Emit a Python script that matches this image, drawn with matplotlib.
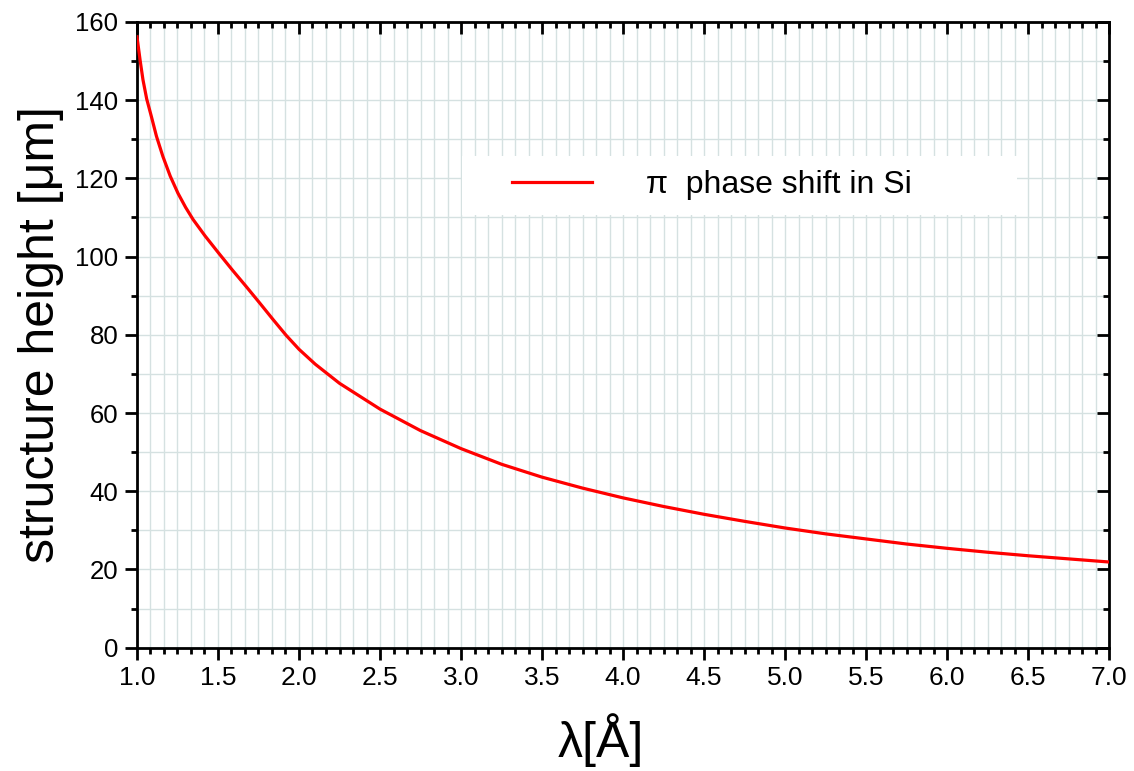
import matplotlib
matplotlib.use("Agg")
import matplotlib.pyplot as plt
from matplotlib.ticker import MultipleLocator, AutoMinorLocator
from matplotlib.patches import Rectangle

plt.rcParams['font.family'] = ['Liberation Sans', 'DejaVu Sans']

# wavelength [Angstrom] and height needed for a pi phase shift in Si [um]
wavelength = [1.000, 1.020, 1.037, 1.060, 1.089, 1.120, 1.160, 1.205, 1.253,
              1.300, 1.346, 1.420, 1.506, 1.590, 1.675, 1.760, 1.840, 1.920,
              2.000, 2.100, 2.250, 2.500, 2.750, 3.000, 3.250, 3.500, 3.750,
              4.000, 4.250, 4.500, 4.750, 5.000, 5.250, 5.500, 5.750, 6.000,
              6.250, 6.500, 6.750, 7.000]
height = [156.2, 150.0, 145.2, 140.3, 135.8, 130.8, 125.6, 120.6, 116.2,
          112.6, 109.5, 105.3, 100.8, 96.5, 92.3, 88.0, 83.9, 79.9,
          76.3, 72.5, 67.6, 61.0, 55.5, 50.9, 46.9, 43.6, 40.8,
          38.3, 36.1, 34.1, 32.3, 30.6, 29.1, 27.8, 26.5, 25.4,
          24.4, 23.5, 22.7, 21.9]
series_label = "π  phase shift in Si"

fig = plt.figure(figsize=(11.34, 7.71), dpi=100)
rect = [0.1208, 0.160, 0.8572, 0.8115]
ax = fig.add_axes(rect)

grid_col = '#d5e1e1'
ax.set_axisbelow(True)
ax.grid(which='both', color=grid_col, linewidth=1.0)

ax.plot(wavelength, height, color='#ff0000', linewidth=2.3, label=series_label, zorder=3)

ax.set_xlim(1.0, 7.0)
ax.set_ylim(0, 160)
ax.xaxis.set_major_locator(MultipleLocator(0.5))
ax.xaxis.set_minor_locator(AutoMinorLocator(6))
ax.yaxis.set_major_locator(MultipleLocator(20))
ax.yaxis.set_minor_locator(AutoMinorLocator(2))
ax.xaxis.set_major_formatter(lambda v, p: f"{v:.1f}")

for s in ax.spines.values():
    s.set_linewidth(2.0)

ax.tick_params(which='both', direction='out', width=2.0, top=False, right=False)
ax.tick_params(which='major', length=8.5, pad=5)
ax.tick_params(which='minor', length=4.3)
ax.tick_params(axis='x', labelsize=19)
ax.tick_params(axis='y', labelsize=18.5)

# overlay axes carrying the inward ticks on top and right
ax2 = fig.add_axes(rect, sharex=ax, sharey=ax, frameon=False)
ax2.patch.set_visible(False)
ax2.tick_params(which='both', direction='in', width=2.0,
                bottom=False, left=False, top=True, right=True,
                labelbottom=False, labelleft=False, labeltop=False, labelright=False)
ax2.tick_params(which='major', length=8.5)
ax2.tick_params(which='minor', length=4.3)

ax.set_xlabel("λ[Å]", fontsize=36)
ax.xaxis.set_label_coords(0.477, -0.104)
ax.set_ylabel("structure height [μm]", fontsize=36, labelpad=8)

# white panel behind the legend
ax.add_patch(Rectangle((0.334, 0.691), 0.571, 0.095, transform=ax.transAxes,
                       facecolor='white', edgecolor='none', zorder=1))
leg = ax.legend(loc='center left', bbox_to_anchor=(0.386, 0.739), frameon=False,
                fontsize=23, handlelength=2.5, handletextpad=1.7, borderpad=0,
                borderaxespad=0)

fig.savefig("out.png", dpi=100)
